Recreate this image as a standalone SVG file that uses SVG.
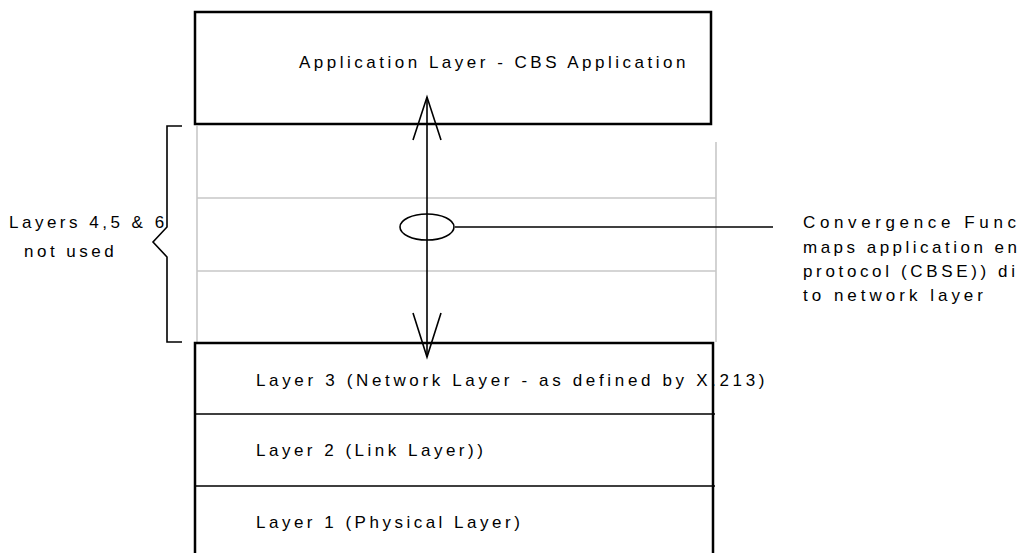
<svg xmlns="http://www.w3.org/2000/svg" width="1020" height="553" viewBox="0 0 1020 553">
  <style>
    .lbl { font-family: "Liberation Sans", Arial, sans-serif; font-size: 17px; fill: #000; letter-spacing: 3.5px; }
    .note { letter-spacing: 0; }
    .box { fill: none; stroke: #000; stroke-width: 2.5; }
    .thin { fill: none; stroke: #000; stroke-width: 1.6; }
    .grey { fill: none; stroke: #c8c8c8; stroke-width: 1.6; }
  </style>
  <rect width="1020" height="553" fill="#fff"/>

  <!-- unused layers 4-6 -->
  <g id="layers-4-6">
    <path class="grey" d="M197 126 V342 M197 198 H716 M197 271 H716 M716 142 V342"/>
  </g>

  <g id="application-layer">
    <rect class="box" x="195" y="12" width="516" height="112"/>
    <text class="lbl" x="299" y="68">Application Layer - CBS Application</text>
  </g>

  <g id="lower-layers">
    <path class="box" d="M195 553 V343 H713 V553"/>
    <path class="thin" d="M195 414 H715 M195 486 H715"/>
    <text class="lbl" x="256" y="386" textLength="512" lengthAdjust="spacing">Layer 3 (Network Layer - as defined by X.213)</text>
    <text class="lbl" x="256" y="456">Layer 2 (Link Layer))</text>
    <text class="lbl" x="256" y="528">Layer 1 (Physical Layer)</text>
  </g>

  <g id="brace">
    <path class="thin" d="M182 126 H167 V227 L153 242 L167 257 V342 H182"/>
    <text class="lbl" x="9" y="228">Layers 4,5 &amp; 6</text>
    <text class="lbl" x="24" y="257">not used</text>
  </g>

  <g id="convergence-function">
    <ellipse class="thin" cx="427" cy="227" rx="27" ry="13"/>
    <text class="lbl note" x="803" y="228" textLength="213" lengthAdjust="spacing">Convergence Func</text>
    <text class="lbl note" x="803" y="253" textLength="214" lengthAdjust="spacing">maps application en</text>
    <text class="lbl note" x="803" y="277" textLength="212" lengthAdjust="spacing">protocol (CBSE)) di</text>
    <text class="lbl note" x="803" y="301" textLength="180" lengthAdjust="spacing">to network layer</text>
  </g>

  <g id="connectors">
    <path class="thin" d="M427 97 V357"/>
    <path class="thin" d="M413 140 L427 97 L441 140"/>
    <path class="thin" d="M413 313 L427 357 L441 313"/>
    <path class="thin" d="M455 227 H773"/>
  </g>
</svg>
